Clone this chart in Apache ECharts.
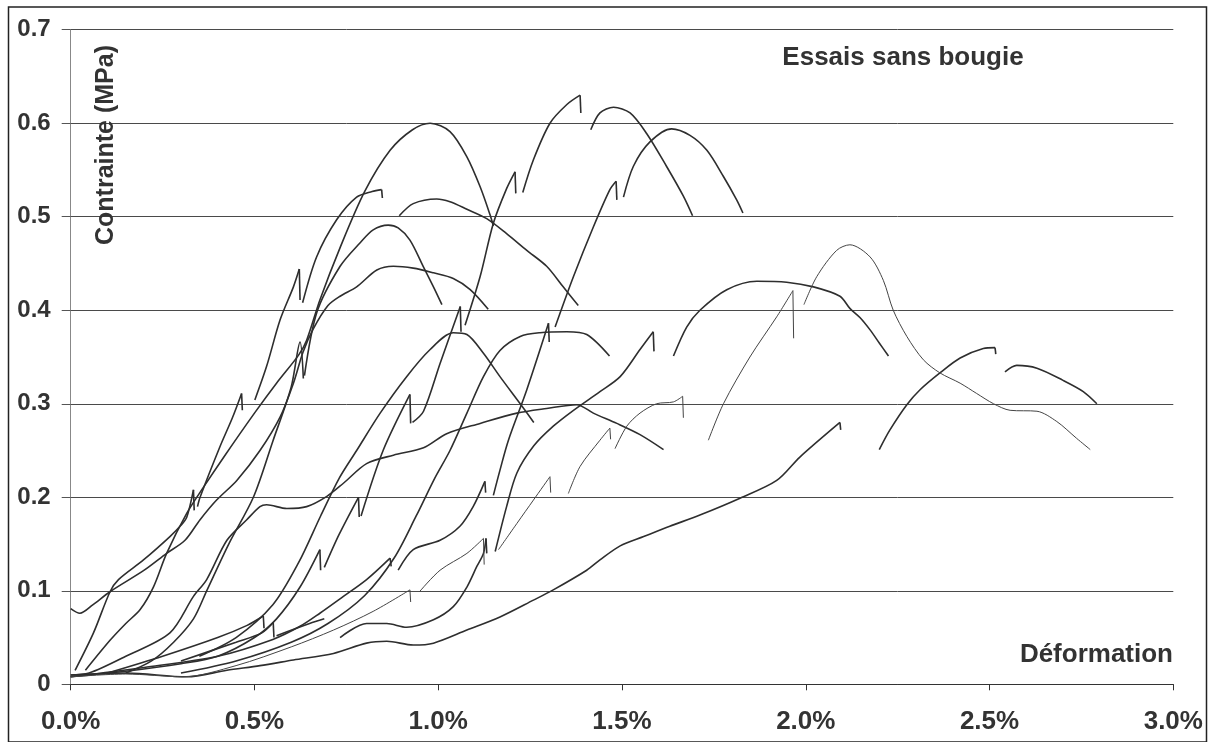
<!DOCTYPE html>
<html><head><meta charset="utf-8">
<script src="https://cdn.jsdelivr.net/npm/echarts@6/dist/echarts.min.js"></script>
<style>html,body{margin:0;padding:0;background:#fff}#c{width:1209px;height:742px}</style>
</head><body><div id="c"></div><script>
// Axis ticks
const xTicks = [0, 0.5, 1.0, 1.5, 2.0, 2.5, 3.0];
const yTicks = [0, 0.1, 0.2, 0.3, 0.4, 0.5, 0.6, 0.7];
const xTitle = 'Déformation';
const yTitle = 'Contrainte (MPa)';
const chartNote = 'Essais sans bougie';

// Each test: list of segments ([strain %, stress MPa]); a segment ends with the sudden drop
const test01 = [[[0.04,0.015],[0.107,0.047],[0.15,0.065],[0.189,0.08],[0.225,0.104],[0.261,0.14],[0.316,0.183],[0.36,0.21],[0.42,0.245],[0.5,0.29],[0.56,0.322],[0.62,0.352],[0.642,0.368],[0.678,0.411],[0.733,0.467],[0.8,0.527],[0.869,0.571],[0.93,0.593],[0.978,0.6],[1.032,0.591],[1.078,0.564],[1.114,0.532],[1.141,0.502],[1.15,0.49]]];
const test02 = [[[0.15,0.012],[0.22,0.025],[0.28,0.045],[0.334,0.07],[0.37,0.1],[0.43,0.15],[0.497,0.2],[0.55,0.26],[0.6,0.318],[0.624,0.366],[0.633,0.327]],
                [[0.636,0.33],[0.67,0.398],[0.733,0.447],[0.787,0.472],[0.823,0.486],[0.864,0.491],[0.891,0.488],[0.923,0.475],[0.959,0.447],[0.987,0.425],[1.01,0.406]]];
const test03 = [[[0,0.081],[0.025,0.076],[0.06,0.085],[0.107,0.099],[0.2,0.122],[0.261,0.14],[0.311,0.154],[0.352,0.176],[0.397,0.197],[0.452,0.218],[0.515,0.25],[0.57,0.286],[0.606,0.322],[0.632,0.355],[0.66,0.38],[0.7,0.405],[0.733,0.415],[0.778,0.425],[0.833,0.443],[0.878,0.447],[0.932,0.445],[0.987,0.44],[1.041,0.434],[1.087,0.422],[1.136,0.401]]];
const test04 = [[[0.012,0.015],[0.062,0.055],[0.107,0.099],[0.13,0.112],[0.198,0.133],[0.27,0.158],[0.3,0.17],[0.316,0.179],[0.334,0.208],[0.336,0.186]],
                [[0.345,0.19],[0.352,0.2],[0.406,0.254],[0.44,0.285],[0.465,0.311],[0.467,0.293]],
                [[0.501,0.304],[0.533,0.34],[0.57,0.39],[0.606,0.425],[0.622,0.444],[0.624,0.411]],
                [[0.631,0.408],[0.669,0.457],[0.724,0.497],[0.778,0.521],[0.82,0.527],[0.846,0.529],[0.848,0.52]]];
const test05 = [[[0.894,0.501],[0.932,0.514],[0.996,0.519],[1.032,0.516],[1.078,0.508],[1.132,0.498],[1.186,0.482],[1.241,0.464],[1.295,0.447],[1.34,0.425],[1.381,0.405]]];
const test06 = [[[0,0.008],[0.15,0.014],[0.3,0.022],[0.4,0.03],[0.5,0.05],[0.56,0.07],[0.624,0.104],[0.678,0.144],[0.68,0.122]],
                [[0.69,0.125],[0.73,0.16],[0.783,0.2],[0.785,0.179]],
                [[0.79,0.18],[0.85,0.25],[0.923,0.31],[0.925,0.279]],
                [[0.93,0.28],[0.96,0.292],[1.005,0.343],[1.06,0.404],[1.062,0.377]],
                [[1.073,0.384],[1.114,0.436],[1.15,0.493],[1.186,0.53],[1.209,0.548],[1.211,0.525]],
                [[1.23,0.526],[1.259,0.561],[1.304,0.6],[1.35,0.62],[1.386,0.63],[1.388,0.611]],
                [[1.415,0.593],[1.44,0.611],[1.477,0.617],[1.522,0.611],[1.567,0.589],[1.621,0.554],[1.667,0.522],[1.692,0.501]]];
const test07 = [[[0.35,0.03],[0.45,0.05],[0.55,0.085],[0.62,0.13],[0.68,0.18],[0.73,0.22],[0.778,0.25],[0.842,0.29],[0.914,0.329],[0.978,0.358],[1.041,0.376],[1.078,0.374],[1.123,0.354],[1.168,0.329],[1.223,0.3],[1.26,0.28]]];
const test08 = [[[0.3,0.012],[0.45,0.025],[0.6,0.045],[0.7,0.065],[0.8,0.095],[0.88,0.135],[0.94,0.18],[0.99,0.22],[1.032,0.25],[1.078,0.29],[1.123,0.329],[1.168,0.357],[1.223,0.372],[1.277,0.376],[1.35,0.377],[1.404,0.374],[1.466,0.351]]];
const test09 = [[[0,0.008],[0.2,0.018],[0.4,0.03],[0.55,0.048],[0.624,0.062],[0.678,0.076],[0.742,0.094],[0.805,0.112],[0.869,0.135],[0.872,0.126]],
                [[0.891,0.122],[0.932,0.144],[1.005,0.154],[1.059,0.169],[1.095,0.19],[1.127,0.217],[1.129,0.205]],
                [[1.15,0.202],[1.168,0.229],[1.191,0.261],[1.241,0.315],[1.3,0.386],[1.302,0.366]],
                [[1.318,0.382],[1.368,0.436],[1.422,0.489],[1.467,0.529],[1.484,0.538],[1.486,0.518]],
                [[1.504,0.521],[1.531,0.554],[1.576,0.58],[1.635,0.594],[1.685,0.587],[1.731,0.571],[1.776,0.543],[1.812,0.518],[1.829,0.504]]];
const test10 = [[[0.733,0.05],[0.805,0.065],[0.86,0.065],[0.914,0.061],[0.987,0.069],[1.041,0.083],[1.078,0.104],[1.105,0.126],[1.123,0.14],[1.13,0.156],[1.132,0.14]],
                [[1.155,0.142],[1.186,0.19],[1.214,0.226],[1.26,0.255],[1.313,0.276],[1.368,0.293],[1.44,0.313],[1.495,0.329],[1.549,0.358],[1.585,0.377],[1.587,0.356]],
                [[1.64,0.351],[1.676,0.382],[1.712,0.4],[1.785,0.422],[1.867,0.431],[1.948,0.43],[2.021,0.425],[2.093,0.415],[2.12,0.402],[2.148,0.392],[2.175,0.379],[2.2,0.365],[2.225,0.351]]];
const test11 = [[[0,0.008],[0.15,0.011],[0.306,0.008],[0.45,0.02],[0.6,0.04],[0.715,0.058],[0.823,0.078],[0.923,0.101],[0.925,0.088]],
                [[0.949,0.099],[1.005,0.122],[1.078,0.14],[1.123,0.156],[1.125,0.128]],
                [[1.164,0.144],[1.214,0.172],[1.259,0.197],[1.304,0.222],[1.306,0.205]],
                [[1.354,0.204],[1.386,0.233],[1.44,0.261],[1.467,0.274],[1.469,0.262]],
                [[1.481,0.252],[1.513,0.276],[1.549,0.29],[1.594,0.3],[1.64,0.302],[1.665,0.308],[1.667,0.285]]];
const test12 = [[[1.735,0.261],[1.776,0.3],[1.848,0.35],[1.921,0.393],[1.965,0.421],[1.967,0.37]],
                [[1.995,0.406],[2.03,0.436],[2.084,0.464],[2.12,0.47],[2.175,0.457],[2.211,0.432],[2.238,0.4],[2.275,0.372],[2.32,0.347],[2.365,0.333],[2.42,0.322],[2.465,0.311],[2.511,0.3],[2.556,0.293],[2.629,0.292],[2.683,0.281],[2.737,0.263],[2.774,0.251]]];
const test13 = [[[0,0.01],[0.152,0.012],[0.316,0.008],[0.425,0.015],[0.515,0.02],[0.606,0.026],[0.715,0.033],[0.805,0.044],[0.86,0.046],[0.932,0.042],[0.987,0.044],[1.078,0.058],[1.168,0.072],[1.259,0.09],[1.313,0.101],[1.404,0.122],[1.44,0.133],[1.495,0.148],[1.559,0.158],[1.63,0.169],[1.712,0.181],[1.821,0.199],[1.921,0.218],[1.984,0.243],[2.093,0.28],[2.095,0.272]],
                [[2.2,0.251],[2.229,0.272],[2.275,0.299],[2.311,0.315],[2.365,0.333],[2.42,0.349],[2.483,0.359],[2.515,0.36],[2.517,0.353]],
                [[2.542,0.334],[2.574,0.341],[2.629,0.338],[2.7,0.325],[2.755,0.313],[2.792,0.3]]];
const test14 = [[[0,0.01],[0.05,0.012],[0.15,0.03],[0.27,0.055],[0.334,0.094],[0.37,0.112],[0.425,0.154],[0.479,0.176],[0.515,0.19],[0.533,0.192],[0.588,0.188],[0.642,0.19],[0.697,0.201],[0.742,0.215],[0.805,0.236],[0.878,0.245],[0.96,0.253],[1.023,0.268],[1.114,0.279],[1.214,0.29],[1.295,0.295],[1.377,0.299],[1.422,0.29],[1.486,0.279],[1.549,0.267],[1.613,0.251]]];
const test15 = [[[0.1,0.012],[0.25,0.03],[0.4,0.05],[0.48,0.063],[0.524,0.073],[0.526,0.06]],
                [[0.3,0.025],[0.45,0.045],[0.52,0.055],[0.551,0.066],[0.553,0.05]],
                [[0.56,0.052],[0.65,0.065],[0.69,0.07]]];

const boldTests = [test01,test02,test03,test04,test05,test06,test07,test08,test09,test10,test13,test14,test15];
const thinTests = [test11,test12];

const series = [];
function line(data, width, color, smooth){
  return {type:'line', data:data, symbol:'none', showSymbol:false, silent:true, smooth:smooth,
    lineStyle:{color:color, width:width}, animation:false, z:3};
}
function addTest(t, width, color){
  t.forEach(seg => {
    const n = seg.length;
    const a = seg[n-2], b = seg[n-1];
    if (n > 2 && Math.abs(b[0]-a[0]) < 0.006 && b[1] < a[1]) {
      series.push(line(seg.slice(0, n-1), width, color, 0.3));
      series.push(line([a, b], width, color, false));
    } else {
      series.push(line(seg, width, color, 0.3));
    }
  });
}
boldTests.forEach(t => addTest(t, 1.6, '#2e2e2e'));
thinTests.forEach(t => addTest(t, 1.0, '#444'));

const chart = echarts.init(document.getElementById('c'), null, {renderer:'canvas'});
const F = 'Liberation Sans, Arial, Helvetica, sans-serif';
chart.setOption({
  backgroundColor:'#fff',
  animation:false,
  grid:{left:70.7, right:35.7, top:29.7, bottom:57.7, containLabel:false},
  xAxis:{type:'value', min:xTicks[0], max:xTicks[xTicks.length-1], interval:0.5,
    axisLine:{show:true, lineStyle:{color:'#333', width:1}},
    axisTick:{show:true, length:6, lineStyle:{color:'#333'}},
    axisLabel:{formatter:v=>v.toFixed(1)+'%', fontSize:26, fontWeight:'bold', fontFamily:F, color:'#333', margin:25},
    splitLine:{show:false}},
  yAxis:{type:'value', min:yTicks[0], max:yTicks[yTicks.length-1], interval:0.1,
    axisLine:{show:true, lineStyle:{color:'#888', width:1}},
    axisTick:{show:true, length:9, lineStyle:{color:'#555'}},
    axisLabel:{formatter:v=>v===0?'0':v.toFixed(1), fontSize:24, fontWeight:'bold', fontFamily:F, color:'#333', margin:20},
    splitLine:{show:true, lineStyle:{color:'#4a4a4a', width:1}}},
  graphic:[
    {type:'rect', shape:{x:8.5, y:7, width:1198, height:735}, style:{fill:null, stroke:'#222', lineWidth:1.5}, silent:true, z:0},
    {type:'text', x:106, y:145, rotation:Math.PI/2, style:{text:yTitle, font:'bold 25px '+F, fill:'#333', textAlign:'center', textVerticalAlign:'middle'}, z:10},
    {type:'text', x:903, y:58, style:{text:chartNote, font:'bold 26px '+F, fill:'#333', textAlign:'center', textVerticalAlign:'middle'}, z:10},
    {type:'text', x:1173, y:655, style:{text:xTitle, font:'bold 26px '+F, fill:'#333', textAlign:'right', textVerticalAlign:'middle'}, z:10}
  ],
  series:series
});
</script></body></html>
